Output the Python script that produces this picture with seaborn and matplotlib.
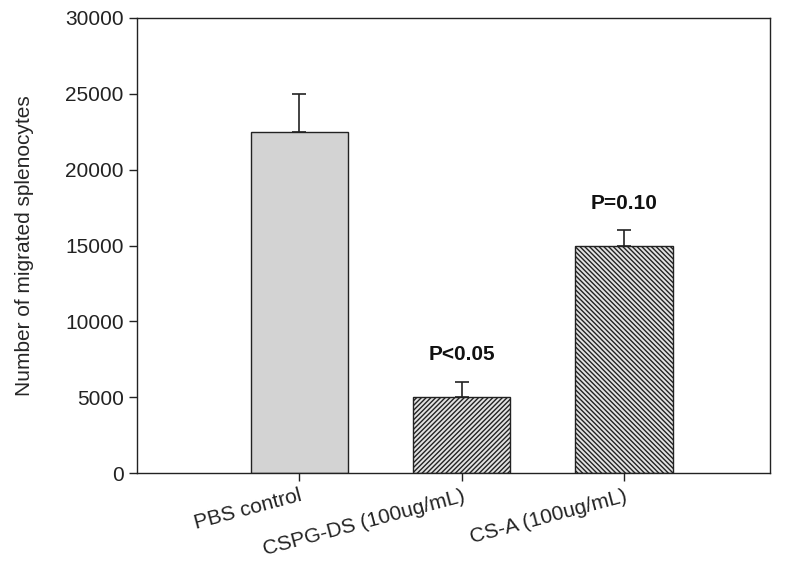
import numpy as np
import pandas as pd
import matplotlib
matplotlib.use('Agg')
import matplotlib.pyplot as plt
import seaborn as sns

# data
groups = ['PBS control', 'CSPG-DS (100ug/mL)', 'CS-A (100ug/mL)']
counts = [22500, 5000, 15000]
errors = [2500, 1000, 1000]
p_labels = [None, 'P<0.05', 'P=0.10']
y_ticks = [0, 5000, 10000, 15000, 20000, 25000, 30000]

sns.set_style('ticks')
plt.rcParams['font.family'] = ['Liberation Sans', 'DejaVu Sans']
plt.rcParams['hatch.linewidth'] = 1.0
plt.rcParams['hatch.color'] = '#3a3a3a'

df = pd.DataFrame({'group': groups, 'count': counts})

fig = plt.figure(figsize=(8, 5.62), dpi=100)
ax = fig.add_axes([0.171, 0.158, 0.792, 0.810])

sns.barplot(data=df, x='group', y='count', order=groups, width=0.6,
            color='#d3d3d3', edgecolor='#222222', linewidth=1.0,
            errorbar=None, ax=ax)

hatches = [None, '/' * 7, '\\' * 7]
faces = ['#d3d3d3', '#e2e2e2', '#e2e2e2']
for bar, h, fc in zip(ax.patches, hatches, faces):
    bar.set_facecolor(fc)
    if h:
        bar.set_hatch(h)

xs = np.arange(len(groups))
ax.errorbar(xs, counts, yerr=[np.zeros(len(errors)), errors], fmt='none',
            ecolor='#222222', elinewidth=1.2, capsize=4.8, capthick=1.2, zorder=1)

for x, c, e, lab in zip(xs, counts, errors, p_labels):
    if lab:
        ax.text(x, c + e + 1800, lab, ha='center', va='center',
                fontsize=15, fontweight='bold', color='#111111')

ax.set_xlim(-1.0, 2.9)
ax.set_ylim(0, 30000)
ax.set_yticks(y_ticks)
ax.set_xlabel('')
ax.set_ylabel('Number of migrated splenocytes', fontsize=15, labelpad=22)
ax.tick_params(axis='both', direction='out', length=6, width=1.0, labelsize=15, colors='#222222')
ax.set_xticks(xs)
ax.set_xticklabels(groups, rotation=15, ha='right', rotation_mode='anchor', fontsize=15)
for s in ax.spines.values():
    s.set_visible(True)
    s.set_linewidth(1.0)
    s.set_color('#222222')

plt.savefig('out.png', dpi=100)
